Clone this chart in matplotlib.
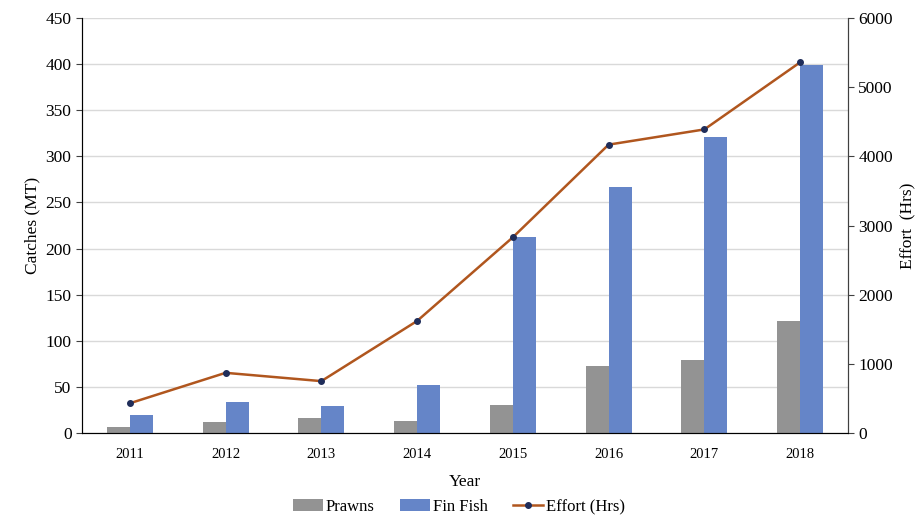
import matplotlib.pyplot as plt
import numpy as np

plt.rcParams['font.family'] = ['Liberation Serif', 'DejaVu Serif']

years = ['2011', '2012', '2013', '2014', '2015', '2016', '2017', '2018']
prawns = [6, 12, 16, 13, 30, 73, 79, 122]
fin_fish = [20, 34, 29, 52, 213, 267, 321, 399]
effort = [430, 870, 750, 1620, 2830, 4170, 4390, 5360]

fig = plt.figure(figsize=(9.18, 5.17), dpi=100)
ax = fig.add_axes([0.0893, 0.1625, 0.8344, 0.8025])

x = np.arange(len(years))
w = 0.24
ax.bar(x - w / 2, prawns, w, color='#939393', label='Prawns', zorder=2)
ax.bar(x + w / 2, fin_fish, w, color='#6585C8', label='Fin Fish', zorder=2)

ax.set_xlim(-0.5, len(years) - 0.5)
ax.set_ylim(0, 450)
ax.set_yticks(range(0, 451, 50))
ax.set_xticks(x)
ax.set_xticklabels(years, fontsize=10.5)
ax.tick_params(axis='x', length=0, pad=11)
ax.tick_params(axis='y', labelsize=12.5, length=4, color='#404040')
ax.grid(axis='y', color='#d9d9d9', linewidth=1, zorder=0)
ax.set_axisbelow(True)
for s in ['left', 'bottom', 'right']:
    ax.spines[s].set_color('#404040')
ax.spines['top'].set_visible(False)
ax.set_xlabel('Year', fontsize=12.5, labelpad=9)
ax.set_ylabel('Catches (MT)', fontsize=12.5)

ax2 = ax.twinx()
ax2.plot(x, effort, color='#B0561E', linewidth=1.8, marker='o', markersize=4,
         markerfacecolor='#1F2D5A', markeredgecolor='#1F2D5A', label='Effort (Hrs)')
ax2.set_ylim(0, 6000)
ax2.set_yticks(range(0, 6001, 1000))
ax2.tick_params(axis='y', labelsize=12.5, length=4, color='#404040')
ax2.spines['top'].set_visible(False)
ax2.spines['right'].set_color('#404040')
ax2.set_ylabel('Effort  (Hrs)', fontsize=12.5, labelpad=5)

h1, l1 = ax.get_legend_handles_labels()
h2, l2 = ax2.get_legend_handles_labels()
fig.legend(h1 + h2, l1 + l2, loc='lower center', ncol=3, frameon=False,
           fontsize=12, bbox_to_anchor=(0.5, -0.025), handlelength=1.8,
           columnspacing=1.5, handletextpad=0.2)

fig.savefig('out.png', dpi=100)
